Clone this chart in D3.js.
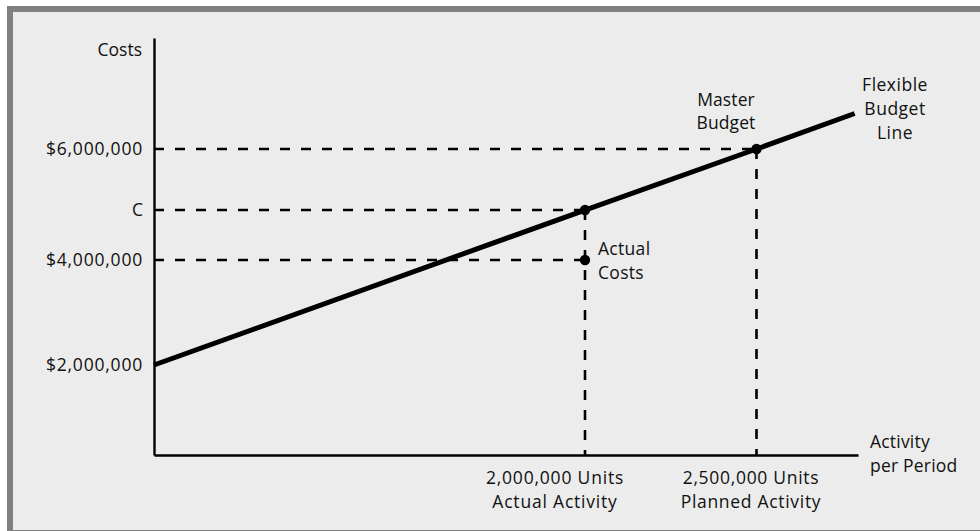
<!DOCTYPE html>
<html>
<head>
<meta charset="utf-8">
<script src="https://cdn.jsdelivr.net/npm/d3@7"></script>
<style>
  html, body { margin: 0; padding: 0; background: #ffffff; }
  svg { display: block; }
  text { font-family: "Open Sans", "Noto Sans", sans-serif; font-size: 17.5px; fill: #111111; }
</style>
</head>
<body>
<svg id="chart" width="980" height="531"></svg>
<script>
// ---- data ----
const C_VALUE = 4900000;
const costTicks = [2000000, C_VALUE, 4000000, 6000000];
const costTickLabels = ["$2,000,000", "C", "$4,000,000", "$6,000,000"];
const activityMarks = [2000000, 2500000];
const activityLabels = [["2,000,000 Units", "Actual Activity"], ["2,500,000 Units", "Planned Activity"]];
const flexUnits = [0, 2000000, 2500000, 2790000];
const flexCosts = [2000000, C_VALUE, 6000000, 6640000];
const pointUnits = [2000000, 2000000, 2500000];
const pointCosts = [C_VALUE, 4000000, 6000000];
const guideUnits = [2000000, 2000000, 2500000];   // horizontal guides end at these activity levels
const guideCosts = [C_VALUE, 4000000, 6000000];

const svg = d3.select("#chart");
const W = 980, H = 531;

// frame
svg.append("rect").attr("x", 7).attr("y", 6).attr("width", W - 7).attr("height", H - 6).attr("fill", "#808080");
svg.append("rect").attr("x", 13).attr("y", 12).attr("width", W - 13).attr("height", H - 13).attr("fill", "#ececec");

// scales (schematic, piecewise linear)
const x = d3.scaleLinear().domain([0, 2000000, 2500000, 2800000]).range([154, 585, 756.5, 858]);
const y = d3.scaleLinear().domain([0, 2000000, 4000000, 6000000, 8000000]).range([455, 365, 260, 149, 38]);

const g = svg.append("g");

// guides
guideCosts.forEach((c, i) => {
  g.append("line")
    .attr("x1", x(0)).attr("x2", x(guideUnits[i]))
    .attr("y1", y(c)).attr("y2", y(c))
    .attr("stroke", "#000").attr("stroke-width", 2.6).attr("stroke-dasharray", "10,11");
});
activityMarks.forEach((u, i) => {
  const top = i === 0 ? C_VALUE : 6000000;
  g.append("line")
    .attr("x1", x(u)).attr("x2", x(u))
    .attr("y1", y(top)).attr("y2", y(0))
    .attr("stroke", "#000").attr("stroke-width", 2.6).attr("stroke-dasharray", "10,10");
});

// axes
const yAxis = d3.axisLeft(y).tickValues(costTicks)
  .tickFormat((d, i) => costTickLabels[i]).tickSize(0).tickPadding(11);
const ya = g.append("g").attr("transform", `translate(${x(0)},0)`).call(yAxis);
ya.select(".domain").attr("stroke", "#000").attr("stroke-width", 2.4);
ya.selectAll("text").attr("font-size", null).attr("font-family", null).attr("fill", null)
  .attr("letter-spacing", d => d === C_VALUE ? 0 : 0.8);
ya.attr("font-size", null).attr("font-family", null);

const xAxis = d3.axisBottom(x).tickValues([]).tickSizeOuter(0);
const xa = g.append("g").attr("transform", `translate(0,${y(0)})`).call(xAxis);
xa.select(".domain").attr("stroke", "#000").attr("stroke-width", 2.4);

// flexible budget line
const flex = flexUnits.map((u, i) => [u, flexCosts[i]]);
g.append("path").datum(flex)
  .attr("d", d3.line().x(d => x(d[0])).y(d => y(d[1])))
  .attr("fill", "none").attr("stroke", "#000").attr("stroke-width", 5);

// points
pointUnits.forEach((u, i) => {
  g.append("circle").attr("cx", x(u)).attr("cy", y(pointCosts[i])).attr("r", 5.2).attr("fill", "#000");
});

// labels
function multi(xp, yp, lines, anchor, lh, ls) {
  const t = g.append("text").attr("text-anchor", anchor).attr("letter-spacing", ls);
  lines.forEach((s, i) => t.append("tspan").attr("x", xp).attr("y", yp + i * lh).text(s));
}
multi(142, 55.5, ["Costs"], "end", 23, 0);
multi(555, 484, activityLabels[0], "middle", 24, 0.8);
multi(751, 484, activityLabels[1], "middle", 24, 0.7);
multi(870, 448, ["Activity", "per Period"], "start", 23.5, 0.2);
multi(726, 105.5, ["Master", "Budget"], "middle", 23, 0.1);
multi(895, 91, ["Flexible", "Budget", "Line"], "middle", 23.8, 0.5);
multi(598, 255, ["Actual", "Costs"], "start", 23.5, 0.3);
</script>
</body>
</html>
